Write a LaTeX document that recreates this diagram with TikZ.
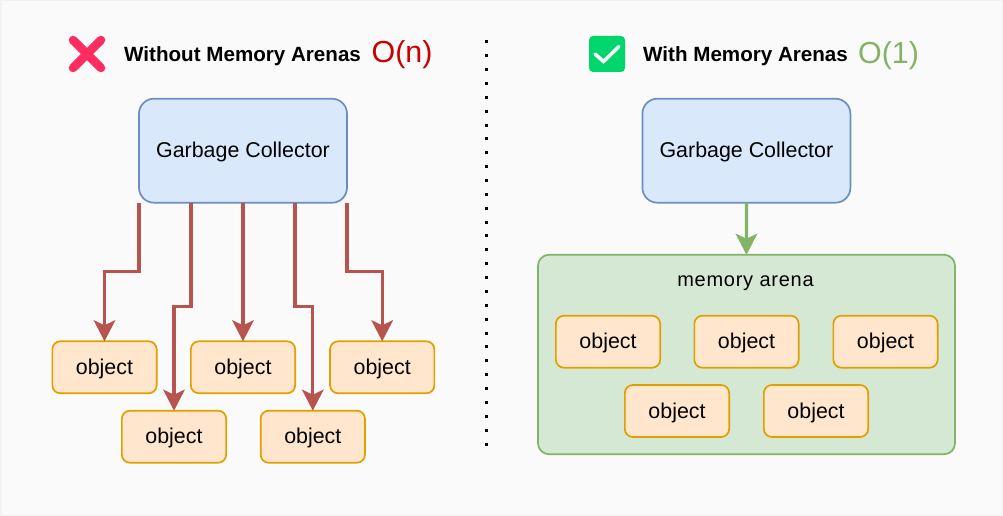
\documentclass[tikz,border=0pt]{standalone}
\usepackage{fontspec}
\setmainfont{Liberation Sans}
\usetikzlibrary{arrows.meta,calc}
\definecolor{bgc}{HTML}{FAFAFA}
\definecolor{edgec}{HTML}{F2F2F2}
\definecolor{bluefill}{HTML}{DAE8FC}
\definecolor{bluedraw}{HTML}{6C8EBF}
\definecolor{orangefill}{HTML}{FFE6CC}
\definecolor{orangedraw}{HTML}{E0A000}
\definecolor{greenfill}{HTML}{D5E8D4}
\definecolor{greendraw}{HTML}{82B366}
\definecolor{redline}{HTML}{B85450}
\definecolor{crossc}{HTML}{FF2D5F}
\definecolor{checkc}{HTML}{00D66B}
\definecolor{bigO}{HTML}{CC0000}
\tikzset{
  gcbox/.style={draw=bluedraw,fill=bluefill,line width=1.7pt,rounded corners=15pt,minimum width=208pt,minimum height=104pt,outer sep=0pt,inner sep=0pt,text height=18pt,text depth=4pt,font=\fontsize{21.4}{24}\selectfont},
  objbox/.style={draw=orangedraw,fill=orangefill,line width=1.7pt,rounded corners=8pt,minimum width=104.3pt,minimum height=52pt,outer sep=0pt,inner sep=0pt,text height=18pt,text depth=4pt,font=\fontsize{21.4}{24}\selectfont},
  arenabox/.style={draw=greendraw,fill=greenfill,line width=1.7pt,rounded corners=11pt,minimum width=417pt,minimum height=199.5pt,outer sep=0pt,inner sep=0pt},
  redarrow/.style={draw=redline,line width=3.3pt,-{Stealth[length=21pt,width=21.5pt,inset=5pt]}},
  greenarrow/.style={draw=greendraw,line width=3.3pt,-{Stealth[length=21pt,width=21.5pt,inset=5pt]}},
  titletext/.style={anchor=base west,inner sep=0pt,font=\fontsize{20.6}{24}\selectfont\bfseries},
  ordertext/.style={anchor=base west,inner sep=0pt,font=\fontsize{30.4}{34}\selectfont},
}
\begin{document}
\begin{tikzpicture}[x=1pt,y=-1pt]
\useasboundingbox (0,0) rectangle (1003,516);
\fill[edgec] (0,0) rectangle (1003,516);
\fill[bgc] (1.5,1.5) rectangle (1001.5,514.5);
% icons
\draw[crossc,line width=8.5pt,line cap=round] (73,40) -- (101,68);
\draw[crossc,line width=8.5pt,line cap=round] (101,40) -- (73,68);
\fill[checkc,rounded corners=4pt] (589,36) rectangle (625,72);
\draw[white,line width=3.5pt,line cap=round] (595,54) -- (603.5,61.5) -- (619,46.5);
% titles
\node[titletext] (t1) at (124,61.7) {Without Memory Arenas};
\node[ordertext,text=bigO] (o1t) at (371.5,63) {O(n)};
\node[titletext] (t2) at (643,61.7) {With Memory Arenas};
\node[ordertext,text=greendraw] (o2t) at (858,64) {O(1)};
% divider
\coordinate (da) at (486,40.3);
\coordinate (db) at (486,446);
\draw[black,line width=3pt,dash pattern=on 3pt off 10.87pt] (da) -- (db);
% left
\node[gcbox] (gcl) at (243,150.7) {Garbage Collector};
\node[objbox] (a) at (104.5,367.3) {object};
\node[objbox] (b) at (174,436.7) {object};
\node[objbox] (c) at (243,367.3) {object};
\node[objbox] (d) at (312.8,436.7) {object};
\node[objbox] (e) at (382.2,367.3) {object};
\coordinate (s1) at (gcl.south west);
\coordinate (s2) at ($(gcl.south west)!0.25!(gcl.south east)$);
\coordinate (s3) at (gcl.south);
\coordinate (s4) at ($(gcl.south west)!0.75!(gcl.south east)$);
\coordinate (s5) at (gcl.south east);
\draw[redarrow] (s1) -- ++(0,69) -| (a.north);
\draw[redarrow] (s2) -- ++(0,104) -| (b.north);
\draw[redarrow] (s3) -- (c.north);
\draw[redarrow] (s4) -- ++(0,104) -| (d.north);
\draw[redarrow] (s5) -- ++(0,69) -| (e.north);
% right
\node[gcbox] (gcr) at (746.4,150.7) {Garbage Collector};
\node[arenabox] (arena) at (746.5,354.5) {};
\node[anchor=base,inner sep=0pt,font=\fontsize{20}{24}\selectfont\addfontfeature{LetterSpace=3.7}] (atext) at (745.5,286) {memory arena};
\draw[greenarrow] (gcr.south) -- (arena.north);
\node[objbox] (f) at (608,341.7) {object};
\node[objbox] (g) at (746.5,341.7) {object};
\node[objbox] (h) at (885.5,341.7) {object};
\node[objbox] (i) at (677,411) {object};
\node[objbox] (j) at (816,411) {object};
\end{tikzpicture}
\end{document}
